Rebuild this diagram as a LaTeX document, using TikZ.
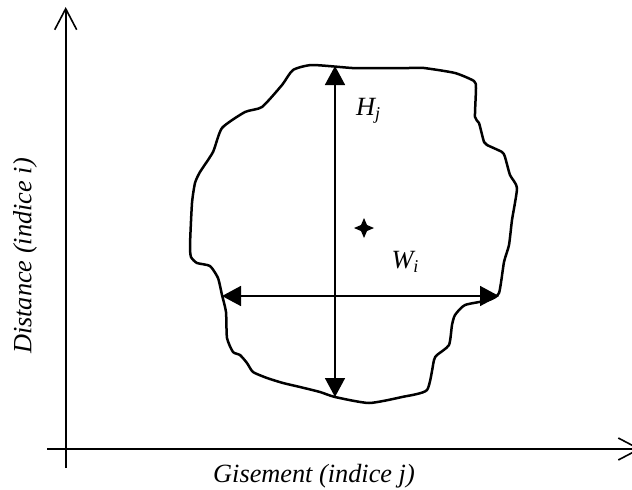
\documentclass[tikz,border=0pt]{standalone}
\usepackage{fontspec}
\setmainfont{Liberation Serif}
\usetikzlibrary{arrows.meta}
\begin{document}
\begin{tikzpicture}[x=1pt,y=-1pt,
  axis/.style={line width=1.6pt,-{Straight Barb[length=21pt,width=22pt,line width=1.6pt]}},
  dim/.style={line width=1.6pt,{Triangle[length=19pt,width=20pt]}-{Triangle[length=19pt,width=20pt]}},
  blob/.style={line width=2.5pt,line join=round},
  lbl/.style={font=\fontsize{26.3}{30}\selectfont\itshape,inner sep=0pt}]
\useasboundingbox (0,0) rectangle (632,490);
% axes
\coordinate (yo) at (65.7,468);
\coordinate (yt) at (65.7,7);
\coordinate (xo) at (47,449);
\coordinate (xt) at (641,449);
\draw[axis] (yo) -- (yt);
\draw[axis] (xo) -- (xt);
% blob outline
\draw[blob] plot[smooth cycle,tension=0.35] coordinates {
(312,65) (352,68) (369,68) (409,68) (424,68) (455,73) (474,81) (476,88)
(475,117) (479,123) (484,142) (487,145) (502,152) (505,157) (510,175) (517,188)
(512,220) (509,245) (504,262) (499,293) (489,300) (465,305) (455,315) (452,325)
(449,345) (437,355) (434,360) (427,390) (402,397) (369,403) (335,397) (320,392)
(300,387) (283,383) (267,378) (253,372) (247,363) (240,355) (233,352) (227,338)
(226,312) (222,295) (218,278) (210,266) (197,263) (191,257) (190,245) (192,203)
(195,183) (200,172) (213,152) (222,128) (245,112) (262,107) (282,85) (293,70)};
% dimension arrows
\coordinate (ht) at (335,66);
\coordinate (hb) at (335,397);
\coordinate (wl) at (222,296);
\coordinate (wr) at (499,296);
\draw[dim] (hb) -- (ht);
\draw[dim] (wl) -- (wr);
% centre star
\coordinate (c) at (364,228);
\fill (364,218) -- (367,225) -- (374,228) -- (367,231) -- (364,238) -- (361,231) -- (354,228) -- (361,225) -- cycle;
% labels
\node[lbl] (hl) at (368,111) {H\raisebox{-0.35ex}{\fontsize{18}{20}\selectfont j}};
\node[lbl] (wlb) at (405,262) {W\raisebox{-0.35ex}{\fontsize{18}{20}\selectfont i}};
\node[lbl] (xl) at (314,476) {Gisement (indice j)};
\node[lbl,rotate=90] (yl) at (25,256) {Distance (indice i)};
\end{tikzpicture}
\end{document}
